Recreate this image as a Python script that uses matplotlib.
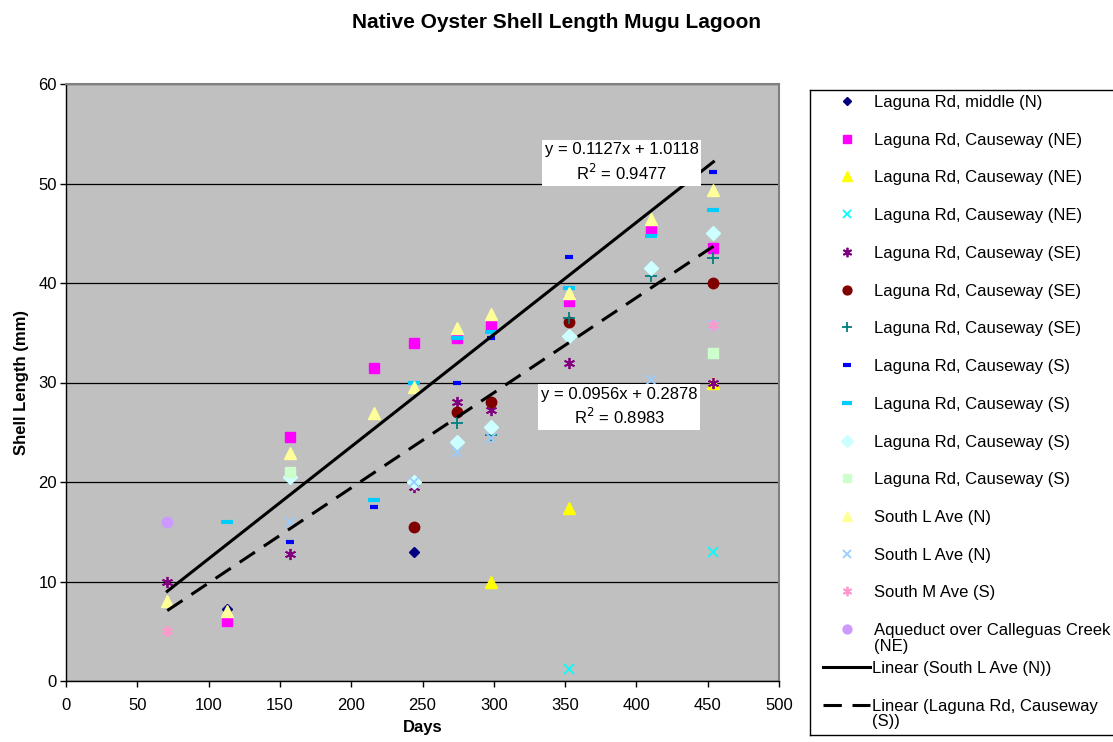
import numpy as np
import matplotlib
matplotlib.use("Agg")
import matplotlib.pyplot as plt

plt.rcParams['font.family'] = ['Liberation Sans', 'DejaVu Sans']

# data
names = ["Laguna Rd, middle (N)", "Laguna Rd, Causeway (NE)", "Laguna Rd, Causeway (NE)",
         "Laguna Rd, Causeway (NE)", "Laguna Rd, Causeway (SE)", "Laguna Rd, Causeway (SE)",
         "Laguna Rd, Causeway (SE)", "Laguna Rd, Causeway (S)", "Laguna Rd, Causeway (S)",
         "Laguna Rd, Causeway (S)", "Laguna Rd, Causeway (S)", "South L Ave (N)",
         "South L Ave (N)", "South M Ave (S)", "Aqueduct over Calleguas Creek\n(NE)"]

days = [
    [113, 244],
    [113, 157, 216, 244, 274, 298, 353, 410, 454],
    [298, 353, 454],
    [353, 454],
    [71, 157, 244, 274, 298, 353, 454],
    [244, 274, 298, 353, 454],
    [274, 298, 353, 410, 454],
    [157, 216, 274, 298, 353, 410, 454],
    [113, 216, 244, 274, 298, 353, 410, 454],
    [157, 244, 274, 298, 353, 410, 454],
    [157, 454],
    [71, 113, 157, 216, 244, 274, 298, 353, 410, 454],
    [157, 244, 274, 298, 410, 454],
    [71, 454],
    [71],
]
length = [
    [7.2, 13],
    [6, 24.5, 31.5, 34, 34.5, 35.7, 38.2, 45.3, 43.5],
    [10, 17.4, 30],
    [1.2, 13],
    [10, 12.8, 19.5, 28, 27.2, 32, 30],
    [15.5, 27, 28, 36.1, 40],
    [25.9, 24.7, 36.5, 40.7, 42.5],
    [14, 17.5, 30, 34.5, 42.6, 41.6, 51.2],
    [16, 18.2, 30, 34.5, 35.1, 39.5, 44.7, 47.3],
    [20.5, 20, 24, 25.5, 34.7, 41.5, 45],
    [21, 33],
    [8, 7, 22.9, 26.9, 29.5, 35.5, 36.9, 39, 46.4, 49.3],
    [16, 20, 23, 24.4, 30.3, 35.8],
    [5, 35.8],
    [16],
]

trend_names = ["Linear (South L Ave (N))", "Linear (Laguna Rd, Causeway\n(S))"]
trend_slope = [0.1127, 0.0956]
trend_icept = [1.0118, 0.2878]
trend_r2 = [0.9477, 0.8983]
trend_range = [71, 454]

star = (6, 2, 0)
styles = [
    dict(marker="D", color="#000080", ms=5),
    dict(marker="s", color="#FF00FF", ms=7.5),
    dict(marker="^", color="#FFFF00", ms=8),
    dict(marker="x", color="#00FFFF", ms=7.5, mew=1.3),
    dict(marker=star, color="#800080", ms=8, mew=1.3),
    dict(marker="o", color="#800000", ms=7.5),
    dict(marker="+", color="#008080", ms=8, mew=1.3),
    dict(marker="_", color="#0000FF", ms=6, mew=3),
    dict(marker="_", color="#00CCFF", ms=9, mew=3),
    dict(marker="D", color="#CCFFFF", ms=7),
    dict(marker="s", color="#CCFFCC", ms=7.5),
    dict(marker="^", color="#FFFF99", ms=8),
    dict(marker="x", color="#99CCFF", ms=7.5, mew=1.3),
    dict(marker=star, color="#FF99CC", ms=8, mew=1.3),
    dict(marker="o", color="#CC99FF", ms=7.5),
]

W, H = 1113, 742
fig = plt.figure(figsize=(W / 100, H / 100), dpi=100)
ax = fig.add_axes([66 / W, 1 - 681 / H, (779 - 66) / W, (681 - 84) / H])
ax.set_facecolor("#C0C0C0")

for i in range(len(names)):
    st = styles[i]
    ax.plot(days[i], length[i], linestyle="none", marker=st["marker"],
            color=st["color"], markersize=st["ms"], markeredgewidth=st.get("mew", 1),
            zorder=3 + i * 0.01)

xs = np.array(trend_range)
ax.plot(xs, trend_slope[0] * xs + trend_icept[0], color="black", lw=2.2, zorder=5)
ax.plot(xs, trend_slope[1] * xs + trend_icept[1], color="black", lw=2.2,
        dashes=(6, 3.5), zorder=5)

box = dict(facecolor="white", edgecolor="none", pad=2)
ax.text(389.7, 52.1, "y = %.4fx + %.4f\nR$^2$ = %.4f" % (trend_slope[0], trend_icept[0], trend_r2[0]),
        ha="center", va="center", fontsize=12, linespacing=1.3, zorder=6, bbox=box)
ax.text(388, 27.5, "y = %.4fx + %.4f\nR$^2$ = %.4f" % (trend_slope[1], trend_icept[1], trend_r2[1]),
        ha="center", va="center", fontsize=12, linespacing=1.3, zorder=6, bbox=box)

ax.set_xlim(0, 500)
ax.set_ylim(0, 60)
ax.set_xticks(range(0, 501, 50))
ax.set_yticks(range(0, 61, 10))
ax.tick_params(direction="out", length=4.5, width=1, labelsize=12)
ax.tick_params(axis="x", pad=8)
ax.tick_params(axis="y", pad=2)
ax.grid(axis="y", color="black", lw=0.9, zorder=1)
ax.set_axisbelow(True)
for s in ["left", "bottom"]:
    ax.spines[s].set_color("black")
    ax.spines[s].set_linewidth(1)
for s in ["top", "right"]:
    ax.spines[s].set_color("#808080")
    ax.spines[s].set_linewidth(1.5)

ax.set_xlabel("Days", fontsize=12, fontweight="bold", labelpad=5)
ax.set_ylabel("Shell Length (mm)", fontsize=12, fontweight="bold", labelpad=7)
fig.text(0.5, 1 - 22 / H, "Native Oyster Shell Length Mugu Lagoon", ha="center", va="center",
         fontsize=15, fontweight="bold")

# legend box, laid out in pixel coordinates like the Excel one
lax = fig.add_axes([810 / W, 1 - 735 / H, 320 / W, (735 - 90) / H])
lax.set_xlim(810, 1130)
lax.set_ylim(735, 90)
lax.set_xticks([])
lax.set_yticks([])
lax.set_facecolor("white")
for s in lax.spines.values():
    s.set_color("black")
    s.set_linewidth(1)

pitch = 37.73
for i in range(len(names)):
    st = styles[i]
    y = 101 + i * pitch
    lax.plot([847], [y], linestyle="none", marker=st["marker"], color=st["color"],
             markersize=st["ms"] * 0.85, markeredgewidth=st.get("mew", 1))
    lax.text(874, y - 6, names[i], fontsize=12, va="top", ha="left", linespacing=1.05)
for j in range(2):
    y = 101 + (len(names) + j) * pitch
    if j == 0:
        lax.plot([823, 870], [y, y], color="black", lw=2.2)
    else:
        lax.plot([823, 870], [y, y], color="black", lw=2.2, dashes=(6, 3.5))
    lax.text(872, y - 6, trend_names[j], fontsize=12, va="top", ha="left", linespacing=1.05)

fig.savefig("out.png", dpi=100)
